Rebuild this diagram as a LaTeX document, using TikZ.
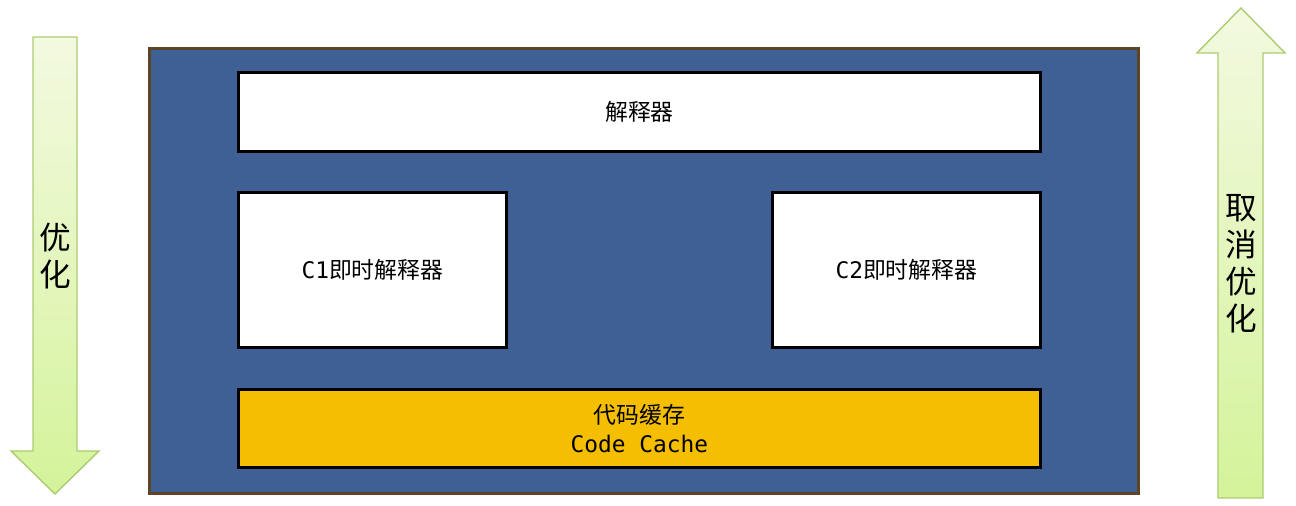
\documentclass[tikz,border=0pt]{standalone}
\usepackage{fontspec}
\setmainfont{Noto Sans CJK SC}
\newfontfamily\codefont{DejaVu Sans Mono}
\usetikzlibrary{positioning}
\definecolor{jvm}{HTML}{3F6094}
\definecolor{frame}{HTML}{5E4426}
\definecolor{cache}{HTML}{F5BE00}
\definecolor{arrowtop}{HTML}{F3F9E0}
\definecolor{arrowbot}{HTML}{D4F39A}
\definecolor{arrowline}{HTML}{ADCB72}

\begin{document}
\begin{tikzpicture}[x=0.02cm,y=-0.02cm,
  part/.style={draw=black,line width=0.06cm,fill=white,inner sep=0pt,align=center,font=\fontsize{13}{16.5}\selectfont},
  flow/.style={draw=arrowline,line width=0.8pt,top color=arrowtop,bottom color=arrowbot},
  vlabel/.style={align=center,font=\fontsize{18}{21}\selectfont}]
  \useasboundingbox (0,0) rectangle (1296,506);
  \draw[flow] (33,37) -- (77,37) -- (77,451) -- (99,451) -- (55,494) -- (11,451) -- (33,451) -- cycle;
  \draw[flow] (1218,498) -- (1263,498) -- (1263,53) -- (1285,53) -- (1241,8) -- (1197,53) -- (1218,53) -- cycle;
  \node[vlabel] (optimize) at (55,256) {优\\化};
  \node[vlabel] (deoptimize) at (1241,264) {取\\消\\优\\化};
  \node[draw=frame,line width=0.06cm,fill=jvm,minimum width=19.78cm,minimum height=8.9cm] (jvm) at (644,271) {};
  \node[part,minimum width=16.04cm,minimum height=1.58cm] (interp) at (639.5,112) {解释器};
  \node[part,minimum width=5.36cm,minimum height=3.1cm] (c1) at (372.5,270) {{\codefont C1}即时解释器};
  \node[part,minimum width=5.36cm,minimum height=3.1cm] (c2) at (906.5,270) {{\codefont C2}即时解释器};
  \node[part,fill=cache,minimum width=16.04cm,minimum height=1.56cm] (cache) at (639.5,428.5) {代码缓存\\{\codefont Code Cache}};
\end{tikzpicture}
\end{document}
